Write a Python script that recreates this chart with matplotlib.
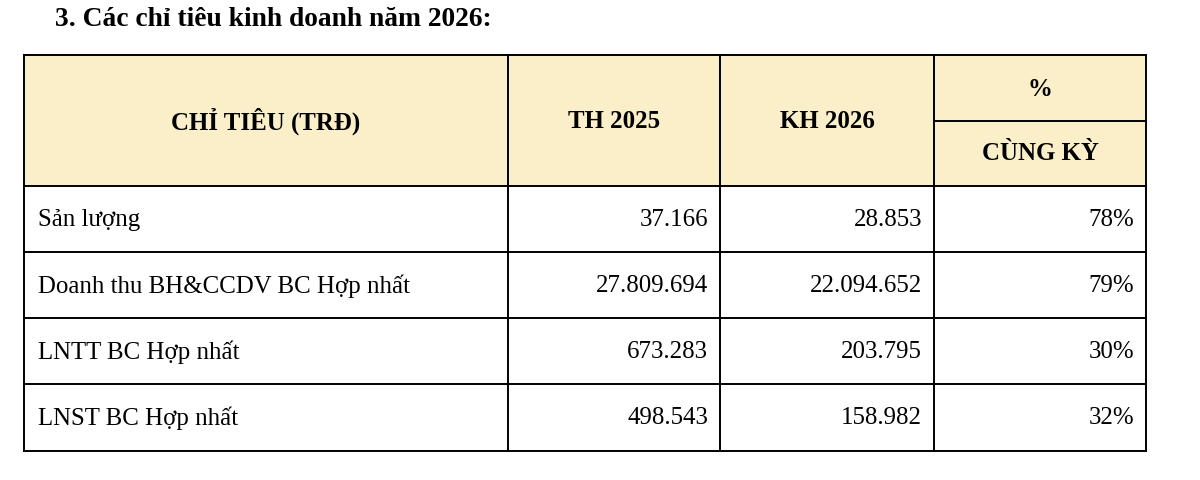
import matplotlib
matplotlib.use("Agg")
import matplotlib.pyplot as plt
from matplotlib.patches import Rectangle

title = "3. Các chỉ tiêu kinh doanh năm 2026:"
headers = ["CHỈ TIÊU (TRĐ)", "TH 2025", "KH 2026"]
pct_header = ["%", "CÙNG KỲ"]
categories = ["Sản lượng", "Doanh thu BH&CCDV BC Hợp nhất", "LNTT BC Hợp nhất", "LNST BC Hợp nhất"]
th2025 = ["37.166", "27.809.694", "673.283", "498.543"]
kh2026 = ["28.853", "22.094.652", "203.795", "158.982"]
pct = ["78%", "79%", "30%", "32%"]

plt.rcParams['font.family'] = ['Liberation Serif', 'DejaVu Serif']
fig = plt.figure(figsize=(12, 4.8), dpi=100)
ax = fig.add_axes([0, 0, 1, 1])
ax.set_xlim(0, 1200); ax.set_ylim(480, 0); ax.axis('off')

cols = [24, 508, 720, 934, 1146]
top, hb = 55, 186
rows = [hb, 252, 318, 384, 451]
fs = 17.9

ax.text(55, 19, title, fontsize=19.8, fontweight='bold', va='center', ha='left')
ax.add_patch(Rectangle((cols[0], top), cols[-1]-cols[0], hb-top, color='#FBEFC9', lw=0))
lw = 1.4
for x in cols:
    ax.plot([x, x], [top, rows[-1]], color='black', lw=lw)
for y in [top] + rows:
    ax.plot([cols[0], cols[-1]], [y, y], color='black', lw=lw)
ax.plot([cols[3], cols[4]], [121, 121], color='black', lw=lw)

hy = (top + hb) / 2 + 1
for i, h in enumerate(headers):
    ax.text((cols[i]+cols[i+1])/2, hy, h, fontsize=fs, fontweight='bold', ha='center', va='center')
cx = (cols[3]+cols[4])/2
ax.text(cx, 89, pct_header[0], fontsize=fs, fontweight='bold', ha='center', va='center')
ax.text(cx, 154, pct_header[1], fontsize=fs, fontweight='bold', ha='center', va='center')

for r in range(len(categories)):
    y = (rows[r] + rows[r+1]) / 2 + 1
    ax.text(38, y, categories[r], fontsize=fs, ha='left', va='center')
    ax.text(cols[2]-12, y, th2025[r], fontsize=fs, ha='right', va='center')
    ax.text(cols[3]-12, y, kh2026[r], fontsize=fs, ha='right', va='center')
    ax.text(cols[4]-12, y, pct[r], fontsize=fs, ha='right', va='center')

fig.savefig("out.png", dpi=100, facecolor='white')
